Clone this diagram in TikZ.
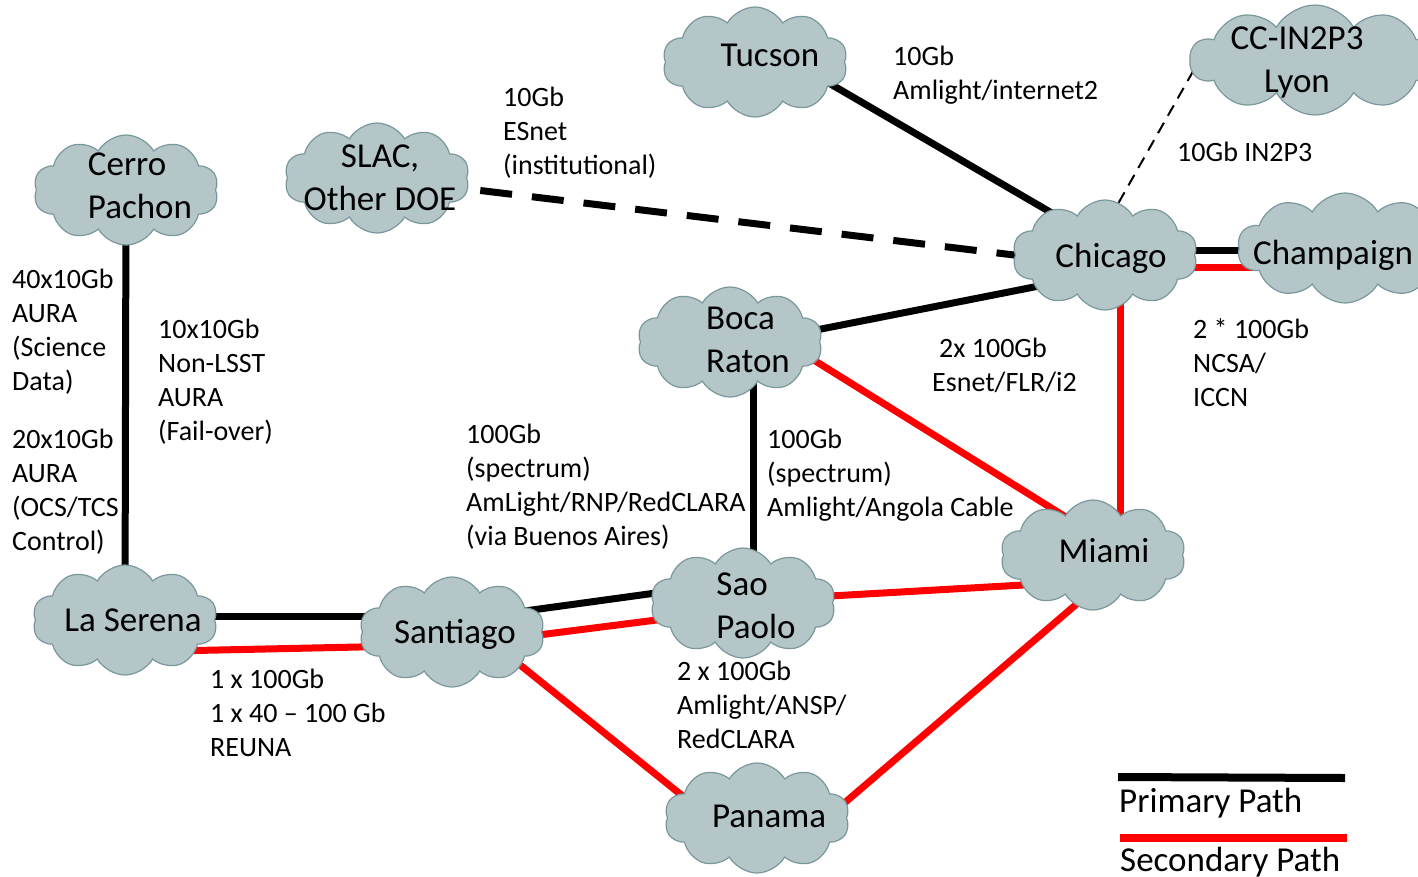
\documentclass[tikz,border=0pt]{standalone}
\usepackage{fontspec}
\setmainfont{Carlito}
\usetikzlibrary{shapes.symbols,backgrounds,calc}

\definecolor{cloudfill}{RGB}{180,198,200}
\definecolor{cloudline}{RGB}{122,152,155}

\tikzset{
  site/.style={cloud, cloud puffs=10, cloud puff arc=120, cloud ignores aspect,
    draw=cloudline, fill=cloudfill, line width=1.2pt,
    minimum width=185pt, minimum height=110pt, inner sep=0pt},
  sitetext/.style={inner sep=0pt, align=center, font=\fontsize{35}{43}\selectfont},
  primary/.style={line width=7pt, black},
  secondary/.style={line width=7pt, red},
  % anchored at the baseline of the last line
  linklabel/.style={anchor=base west, inner sep=0pt, align=left,
    font=\fontsize{28}{34}\selectfont},
  legendtext/.style={anchor=base west, inner sep=0pt,
    font=\fontsize{35}{43}\selectfont},
}

\begin{document}
\begin{tikzpicture}[x=1pt,y=-1pt]
  \useasboundingbox (0,0) rectangle (1418,876);

  % Sites (text placed as a label so the cloud keeps its size)
  \node[site, label={[sitetext, align=left, xshift=14pt, yshift=4pt]center:Cerro\\Pachon}] (CP) at (126,190) {};
  \node[site, label={[sitetext, xshift=3pt]center:SLAC,\\Other DOE}] (SL) at (377,178) {};
  \node[site, label={[sitetext, xshift=15pt, yshift=7pt]center:Tucson}] (TU) at (755,62) {};
  \node[site, minimum width=250pt, label={[sitetext, xshift=-18pt, yshift=-2pt]center:CC-IN2P3\\Lyon}] (LY) at (1315,60) {};
  \node[site, label={[sitetext, xshift=6pt, yshift=-3pt]center:Chicago}] (CH) at (1105,255) {};
  \node[site, minimum width=215pt, label={[sitetext, xshift=-12pt, yshift=-7pt]center:Champaign}] (CM) at (1345,248) {};
  \node[site, label={[sitetext, align=left, xshift=18pt, yshift=2pt]center:Boca\\Raton}] (BR) at (730,342) {};
  \node[site, label={[sitetext, xshift=11pt, yshift=4pt]center:Miami}] (MI) at (1093,555) {};
  \node[site, label={[sitetext, xshift=8pt]center:La Serena}] (LS) at (125,620) {};
  \node[site, label={[sitetext, xshift=3pt, yshift=-2pt]center:Santiago}] (SA) at (452,632) {};
  \node[site, label={[sitetext, align=left, xshift=13pt, yshift=-3pt]center:Sao\\Paolo}] (SP) at (743,603) {};
  \node[site, label={[sitetext, xshift=12pt, yshift=2pt]center:Panama}] (PA) at (757,818) {};

  % Links (behind the clouds)
  \begin{scope}[on background layer]
    % primary paths
    \draw[primary] (CP.center) -- (LS.center);
    \draw[primary] ($(LS)+(0,-4)$) -- ($(SA)+(0,-16)$);
    \draw[primary] ($(SA)+(0,-11)$) -- ($(SP)+(0,-22)$);
    \draw[primary] ($(SP)+(10,0)$) -- ($(BR)+(23,0)$);
    \draw[primary] ($(BR)+(0,5)$) -- ($(CH)+(0,18)$);
    \draw[primary] ($(CH)+(0,-5)$) -- ($(CM)+(0,2)$);
    \draw[primary] ($(TU)+(0,-22)$) -- ($(CH)+(0,-11)$);
    \draw[primary, dash pattern=on 32pt off 20pt] (SL.center) -- ($(CH)+(0,11)$);
    \draw[line width=2pt, dash pattern=on 12pt off 8pt] ($(CH)+(-16,0)$) -- ($(LY)+(-115,-1)$);

    % secondary paths
    \draw[secondary] ($(LS)+(0,32)$) -- ($(SA)+(0,13)$);
    \draw[secondary] ($(SA)+(0,14)$) -- ($(SP)+(0,6)$);
    \draw[secondary] ($(BR)+(50,-3)$) -- ($(MI)+(0,-21)$);
    \draw[secondary] ($(SP)+(0,-2)$) -- ($(MI)+(0,26)$);
    \draw[secondary] ($(MI)+(27,0)$) -- ($(CH)+(15,0)$);
    \draw[secondary] ($(CH)+(0,12)$) -- ($(CM)+(0,19)$);
    \draw[secondary] ($(SA)+(0,-22)$) -- ($(PA)+(0,38)$);
    \draw[secondary] ($(MI)+(0,35)$) -- ($(PA)+(43,23)$);
  \end{scope}

  % Link labels
  \node[linklabel] (Lesnet) at (503,174) {10Gb\\ESnet\\(institutional)};
  \node[linklabel] (Ltucson) at (893,99) {10Gb\\Amlight/internet2};
  \node[linklabel] (Lin2p3) at (1177,161) {10Gb IN2P3};
  \node[linklabel] (Lsci) at (12,390) {40x10Gb\\AURA\\(Science\\Data)};
  \node[linklabel] (Lctrl) at (12,550) {20x10Gb\\AURA\\(OCS/TCS\\Control)};
  \node[linklabel] (Lfail) at (158,440) {10x10Gb\\Non-LSST\\AURA\\(Fail-over)};
  \node[linklabel] (Lrnp) at (466,545) {100Gb\\(spectrum)\\AmLight/RNP/RedCLARA\\(via Buenos Aires)};
  \node[linklabel] (Langola) at (767,516) {100Gb\\(spectrum)\\Amlight/Angola Cable};
  \node[linklabel] (Lflr) at (932,391) {\hspace*{7pt}2x 100Gb\\Esnet/FLR/i2};
  \node[linklabel] (Lncsa) at (1193,406) {2 * 100Gb\\NCSA/\\ICCN};
  \node[linklabel] (Lreuna) at (210,756) {1 x 100Gb\\1 x 40 – 100 Gb\\REUNA};
  \node[linklabel] (Lansp) at (677,748) {2 x 100Gb\\Amlight/ANSP/\\RedCLARA};

  % Legend
  \coordinate (KA) at (1118,777);
  \coordinate (KB) at (1345,778);
  \coordinate (KC) at (1120,838);
  \coordinate (KD) at (1347,838);
  \draw[primary, line width=8pt] (KA) -- (KB);
  \draw[secondary, line width=8pt] (KC) -- (KD);
  \node[legendtext] (KP) at (1119,812) {Primary Path};
  \node[legendtext] (KS) at (1120,871) {Secondary Path};

\end{tikzpicture}
\end{document}
